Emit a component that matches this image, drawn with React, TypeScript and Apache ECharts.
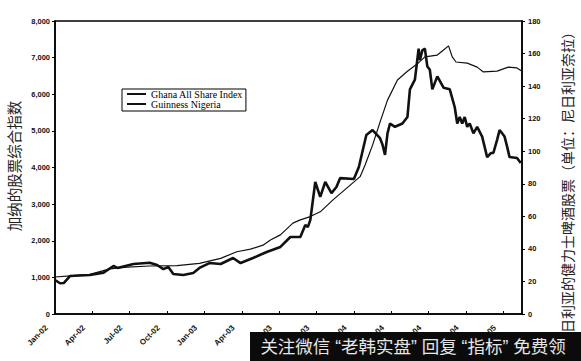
import React, { useEffect, useRef } from "react";
import * as echarts from "echarts";

// x positions are months since Jan-02
const xTickLabels = ["Jan-02", "Apr-02", "Jul-02", "Oct-02", "Jan-03", "Apr-03", "Jul-03", "Oct-03", "Jan-04", "Apr-04", "Jul-04", "Oct-04", "Jan-05"];

const ghanaMonths = [0, 1.2, 2.8, 4.4, 5.8, 7.6, 9.8, 11.6, 13.3, 14.6, 15.7, 16.7, 17.3, 18.1, 19.1, 19.7, 20.5, 21.3, 22.3, 23.4, 24.5, 24.9, 25.5, 26.1, 26.7, 27.5, 28.3, 29.1, 29.7, 30.7, 31.2, 31.6, 31.9, 32.2, 33.1, 33.9, 34.4, 35.5, 36.4, 37.1, 37.5];
const ghanaValues = [1010, 1040, 1080, 1230, 1280, 1310, 1320, 1380, 1520, 1700, 1770, 1880, 2020, 2160, 2480, 2570, 2660, 2790, 3110, 3430, 3750, 4070, 4610, 5240, 5840, 6390, 6630, 6830, 7020, 7070, 7210, 7320, 7020, 6880, 6850, 6740, 6610, 6630, 6740, 6720, 6630];

const guinnessMonths = [0, 0.4, 0.7, 1.2, 2.8, 3.9, 4.7, 5.0, 6.3, 7.6, 8.2, 8.7, 9.1, 9.5, 10.3, 11.1, 11.6, 12.4, 13.3, 14.3, 14.9, 15.9, 17.0, 18.1, 18.9, 19.7, 20.1, 20.3, 20.5, 20.9, 21.3, 21.7, 22.2, 22.6, 22.9, 24.0, 24.4, 25.0, 25.5, 26.1, 26.3, 26.5, 26.7, 26.9, 27.3, 27.9, 28.3, 28.5, 28.9, 29.2, 29.3, 29.5, 29.7, 29.9, 30.1, 30.3, 30.7, 31.2, 31.7, 32.1, 32.3, 32.5, 32.7, 32.9, 33.1, 33.3, 33.6, 33.9, 34.3, 34.7, 35.0, 35.2, 35.5, 35.7, 36.1, 36.3, 36.5, 37.1, 37.4];
const guinnessValues = [20.9, 18.9, 19.0, 23.3, 24.0, 25.4, 29.5, 28.3, 30.7, 31.5, 30.1, 27.6, 28.9, 24.6, 24.0, 25.2, 28.3, 31.3, 30.7, 34.4, 31.3, 34.4, 38.1, 41.2, 47.3, 47.3, 54.7, 53.4, 57.7, 81.1, 71.9, 81.1, 74.3, 78.0, 83.5, 82.9, 90.3, 110, 113, 108, 104, 97.7, 111, 117, 115, 117, 121, 138, 144, 163, 156, 162, 163, 152, 150, 138, 146, 139, 138, 127, 117, 121, 117, 121, 115, 117, 111, 115, 109, 96.4, 98.9, 98.9, 107, 113, 109, 103, 96.4, 95.8, 92.8];

const seriesNames = ["Ghana All Share Index", "Guinness Nigeria"];
const leftAxisName = "加纳的股票综合指数";
const rightAxisName = "尼日利亚的健力士啤酒股票（单位：尼日利亚奈拉）";
const watermarkText = "关注微信 “老韩实盘” 回复 “指标” 免费领";

export default function App() {
  const ref = useRef<HTMLDivElement>(null);
  useEffect(() => {
    if (!ref.current) return;
    const chart = echarts.init(ref.current, null, { renderer: "svg" });
    const tickFont = { fontSize: 7.5, fontWeight: "bold" as const, fontFamily: "Liberation Sans", color: "#111" };
    chart.setOption({
      animation: false,
      backgroundColor: "#fff",
      grid: { left: 55, right: 59, top: 21, bottom: 47, show: true, borderColor: "#000", borderWidth: 1.5 },
      legend: {
        data: seriesNames,
        orient: "vertical",
        left: 122,
        top: 89,
        itemWidth: 19,
        itemHeight: 9,
        itemGap: 0,
        padding: [0, 3, 2, 4],
        borderColor: "#000",
        borderWidth: 1,
        itemStyle: { color: "rgba(0,0,0,0)", borderColor: "rgba(0,0,0,0)", borderWidth: 0, opacity: 0 },
        textStyle: { fontFamily: "Liberation Serif", fontSize: 10, color: "#000", lineHeight: 10 },
      },
      xAxis: {
        type: "value",
        min: 0,
        max: 37.5,
        interval: 3,
        splitLine: { show: false },
        axisLine: { lineStyle: { color: "#000", width: 1.5 } },
        axisTick: { inside: true, length: 3, lineStyle: { color: "#000" } },
        axisLabel: {
          ...tickFont,
          fontSize: 8,
          rotate: 45,
          margin: 4,
          showMaxLabel: false,
          rich: { s: { width: 12 } },
          formatter: (v: number) => {
            const k = Math.round(v / 3);
            if (Math.abs(v / 3 - k) > 1e-6 || !xTickLabels[k]) return "";
            return xTickLabels[k] + "{s|}";
          },
        },
      },
      yAxis: [
        {
          type: "value",
          min: 0,
          max: 8000,
          interval: 1000,
          splitLine: { show: false },
          axisLine: { show: true, lineStyle: { color: "#000", width: 1.5 } },
          axisTick: { show: true, length: 3, lineStyle: { color: "#000" } },
          axisLabel: { ...tickFont, margin: 5, formatter: (v: number) => v.toLocaleString("en-US") },
        },
        {
          type: "value",
          min: 0,
          max: 180,
          interval: 20,
          position: "right",
          splitLine: { show: false },
          axisLine: { show: true, lineStyle: { color: "#000", width: 1.5 } },
          axisTick: { show: true, length: 3, lineStyle: { color: "#000" } },
          axisLabel: { ...tickFont, margin: 6 },
        },
      ],
      series: [
        {
          name: seriesNames[0],
          type: "line",
          yAxisIndex: 0,
          showSymbol: false,
          symbol: "none",
          lineStyle: { color: "#111", width: 1.2 },
          itemStyle: { color: "#111" },
          data: ghanaMonths.map((m, i) => [m, ghanaValues[i]]),
        },
        {
          name: seriesNames[1],
          type: "line",
          yAxisIndex: 1,
          showSymbol: false,
          symbol: "none",
          lineStyle: { color: "#111", width: 2.6 },
          itemStyle: { color: "#111" },
          data: guinnessMonths.map((m, i) => [m, guinnessValues[i]]),
        },
      ],
      graphic: [
        {
          type: "text",
          x: 13,
          y: 166,
          rotation: Math.PI / 2,
          style: { text: leftAxisName, fontSize: 14.5, fontFamily: "Noto Sans CJK SC", fill: "#222", align: "center", verticalAlign: "middle" },
        },
        {
          type: "text",
          x: 567,
          y: 186,
          rotation: Math.PI / 2,
          style: { text: rightAxisName, fontSize: 14, fontFamily: "Noto Sans CJK SC", fill: "#222", align: "center", verticalAlign: "middle" },
        },
        {
          type: "rect",
          z: 100,
          shape: { x: 250, y: 332, width: 331, height: 29 },
          style: { fill: "#0b0b0b" },
        },
        {
          type: "text",
          z: 101,
          x: 413,
          y: 346.5,
          style: { text: watermarkText, fontSize: 17.5, fontFamily: "Liberation Sans, Noto Sans CJK SC", fill: "#e6e6e6", align: "center", verticalAlign: "middle" },
        },
      ],
    });
    return () => chart.dispose();
  }, []);
  return <div ref={ref} style={{ position: "absolute", left: 0, top: 0, width: 581, height: 361 }} />;
}
